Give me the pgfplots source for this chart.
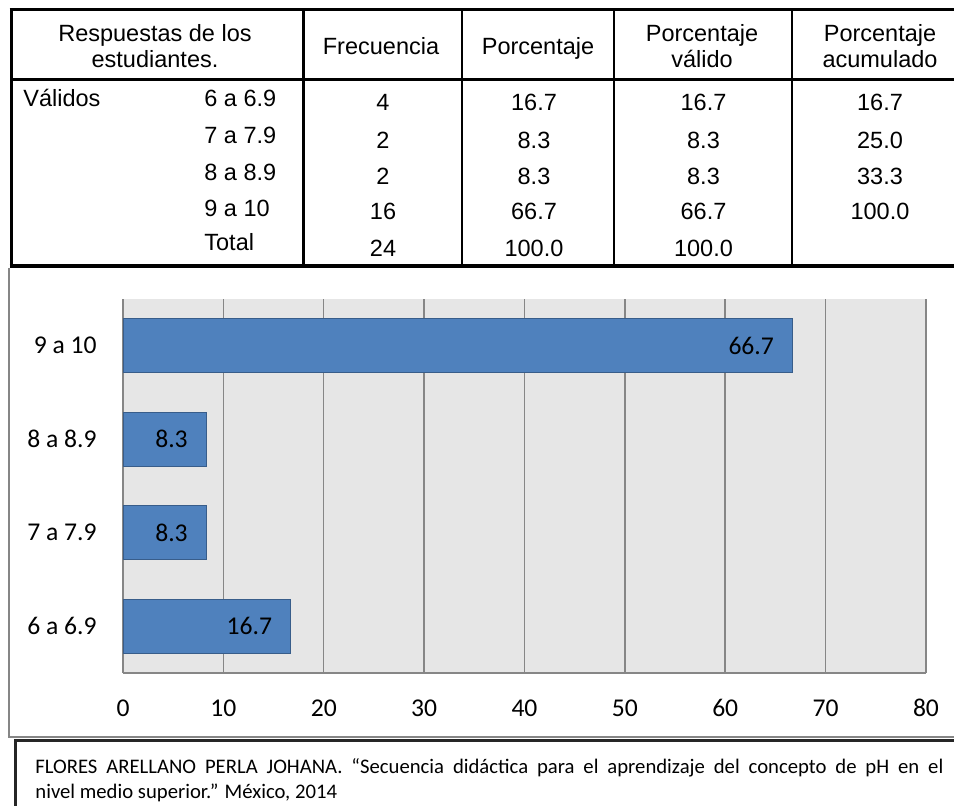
\documentclass[border=0pt]{standalone}
\usepackage{fontspec}
\setmainfont{Carlito}
\newfontfamily\arialfont{Liberation Sans}
\usepackage{pgfplots}
\pgfplotsset{compat=1.18}
\definecolor{barblue}{RGB}{79,129,189}
\definecolor{barborder}{RGB}{56,93,138}
\definecolor{bggray}{RGB}{230,230,230}
\definecolor{gridgray}{RGB}{134,134,134}
\newcommand\chartfont{\fontsize{12.8pt}{15pt}\selectfont}
\newcommand\tabfont{\arialfont\fontsize{11.75pt}{14pt}\selectfont}
\newcommand\citefont{\fontsize{10.35pt}{12.5pt}\selectfont}
\begin{document}
\begin{tikzpicture}
\useasboundingbox (0,0) rectangle (477pt,-403pt);
% chart frame (behind)
\begin{scope}[x=0.5pt,y=-0.5pt]
\draw[draw=gridgray, line width=0.65pt] (9,268) -- (9,737) -- (970,737);
\end{scope}
\begin{axis}[
  at={(61.5pt,-336.5pt)}, anchor=south west,
  scale only axis, width=401.5pt, height=187pt,
  xbar, bar width=27pt,
  xmin=0, xmax=80, ymin=-0.5, ymax=3.5,
  xtick={0,10,...,80}, ytick={0,1,2,3},
  yticklabels={6 a 6.9,7 a 7.9,8 a 8.9,9 a 10},
  xmajorgrids, grid style={draw=gridgray, line width=0.75pt},
  axis x line*=bottom, axis y line*=left,
  axis line style={-, draw=gridgray, line width=0.75pt},
  major tick length=0pt,
  axis background/.style={fill=bggray},
  /pgf/number format/assume math mode=true,
  tick label style={font=\chartfont, text=black},
  xticklabel style={anchor=center, inner sep=0pt, yshift=-17.5pt},
  yticklabel style={anchor=east, inner sep=0pt, xshift=-13pt},
  point meta=x,
  nodes near coords={\pgfmathprintnumber[fixed,precision=1,zerofill]{\pgfplotspointmeta}},
  every node near coord/.append style={anchor=east, inner sep=0pt, xshift=-9pt, font=\chartfont, text=black},
]
\addplot[xbar, fill=barblue, draw=barborder, line width=0.6pt]
  coordinates {(16.7,0) (8.3,1) (8.3,2) (66.7,3)};
\end{axis}
\begin{scope}[x=0.5pt,y=-0.5pt]
% table lines
\draw[line width=1.5pt] (9.5,10) -- (970,10);
\draw[line width=1.5pt] (11,10) -- (11,266);
\draw[line width=1.5pt] (303,10) -- (303,266);
\draw[line width=0.65pt] (462,10) -- (462,266);
\draw[line width=0.65pt] (614,10) -- (614,266);
\draw[line width=0.65pt] (792,10) -- (792,266);
\draw[line width=1.5pt] (11,80) -- (970,80);
\draw[line width=2pt] (9.5,266) -- (970,266);
% table header
\begin{scope}[every node/.style={inner sep=0pt, anchor=base, font=\tabfont}]
\node at (155,42) {Respuestas de los};
\node at (155,68) {estudiantes.};
\node at (381,54.5) {Frecuencia};
\node at (538,54.5) {Porcentaje};
\node at (702,42) {Porcentaje};
\node at (702,68) {válido};
\node at (880,42) {Porcentaje};
\node at (880,68) {acumulado};
% values
\node at (383,111) {4};
\node at (383,149) {2};
\node at (383,184.8) {2};
\node at (383,219.8) {16};
\node at (383,257) {24};
\node at (534,111) {16.7};
\node at (534,149) {8.3};
\node at (534,184.8) {8.3};
\node at (534,219.8) {66.7};
\node at (534,257) {100.0};
\node at (703.5,111) {16.7};
\node at (703.5,149) {8.3};
\node at (703.5,184.8) {8.3};
\node at (703.5,219.8) {66.7};
\node at (703.5,257) {100.0};
\node at (880,111) {16.7};
\node at (880,149) {25.0};
\node at (880,184.8) {33.3};
\node at (880,219.8) {100.0};
\end{scope}
\begin{scope}[every node/.style={inner sep=0pt, anchor=base west, font=\tabfont}]
\node at (23,106.6) {Válidos};
\node at (204,106.6) {6 a 6.9};
\node at (204,143.4) {7 a 7.9};
\node at (204,180.3) {8 a 8.9};
\node at (204,216.4) {9 a 10};
\node at (204,251) {Total};
\end{scope}
% citation box
\draw[line width=1.3pt, draw=black!85] (15.3,815) -- (15.3,740.5) -- (970,740.5);
\node[inner sep=0pt, anchor=base west, font=\citefont] at (35,773.5)
  {\makebox[454pt][s]{FLORES ARELLANO PERLA JOHANA. “Secuencia didáctica para el aprendizaje del concepto de pH en el}};
\node[inner sep=0pt, anchor=base west, font=\citefont] at (35,798.5)
  {nivel medio superior.” México, 2014};
\end{scope}
\end{tikzpicture}
\end{document}
